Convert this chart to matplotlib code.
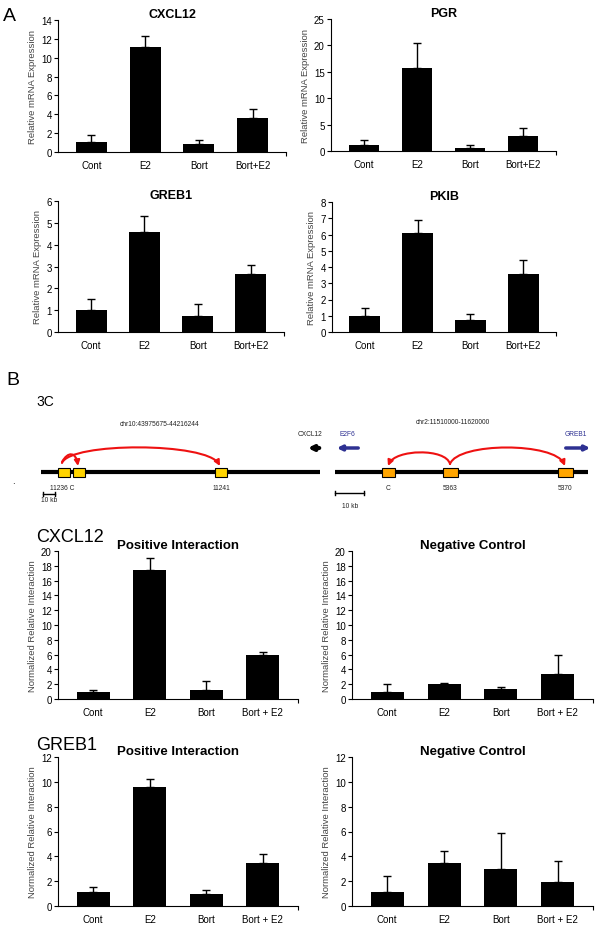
import matplotlib
matplotlib.use('Agg')
from matplotlib import pyplot as plt
from matplotlib.patches import Rectangle, FancyArrowPatch
from matplotlib.path import Path
import numpy as np

plt.rcParams['font.family'] = ['Liberation Sans', 'DejaVu Sans']

# ---- data ----
groups_a = ['Cont', 'E2', 'Bort', 'Bort+E2']
groups_b = ['Cont', 'E2', 'Bort', 'Bort + E2']

cxcl12_expr = [1.1, 11.1, 0.8, 3.6]
cxcl12_expr_err = [0.75, 1.2, 0.45, 1.0]
pgr_expr = [1.2, 15.7, 0.6, 2.8]
pgr_expr_err = [0.8, 4.8, 0.5, 1.6]
greb1_expr = [1.0, 4.6, 0.75, 2.65]
greb1_expr_err = [0.5, 0.72, 0.55, 0.4]
pkib_expr = [1.0, 6.1, 0.75, 3.55]
pkib_expr_err = [0.45, 0.8, 0.35, 0.9]

cxcl12_pos = [1.0, 17.4, 1.2, 6.0]
cxcl12_pos_err = [0.2, 1.6, 1.2, 0.4]
cxcl12_neg = [1.0, 2.0, 1.4, 3.4]
cxcl12_neg_err = [1.0, 0.2, 0.2, 2.6]
greb1_pos = [1.1, 9.6, 1.0, 3.5]
greb1_pos_err = [0.4, 0.6, 0.25, 0.7]
greb1_neg = [1.1, 3.5, 3.0, 1.95]
greb1_neg_err = [1.35, 0.95, 2.9, 1.65]

W, H = 600, 929
fig = plt.figure(figsize=(6, 9.29), dpi=100)


def px_axes(x0, y0, x1, y1):
    return fig.add_axes([x0 / W, 1 - y1 / H, (x1 - x0) / W, (y1 - y0) / H])


def bar_panel(ax, vals, errs, labels, ymax, step, ylabel, title, tsize, tpad):
    x = np.arange(len(vals))
    ax.bar(x, vals, width=0.58, color='black', zorder=2)
    ax.errorbar(x, vals, yerr=[np.zeros(len(errs)), errs], fmt='none',
                ecolor='black', elinewidth=1, capsize=3, capthick=1, zorder=3)
    ax.set_xlim(-0.62, 3.62)
    ax.set_ylim(0, ymax)
    ax.set_yticks(np.arange(0, ymax + 0.01, step))
    ax.set_xticks(x)
    ax.set_xticklabels(labels, fontsize=7)
    ax.set_xticks([3.62], minor=True)
    ax.tick_params(axis='x', which='major', length=0, pad=6)
    ax.tick_params(axis='x', which='minor', length=3, width=0.8)
    ax.tick_params(axis='y', labelsize=7, length=3, width=0.8, pad=1.5)
    for s in ['top', 'right']:
        ax.spines[s].set_visible(False)
    ax.spines['left'].set_linewidth(0.8)
    ax.spines['bottom'].set_linewidth(0.8)
    ax.set_ylabel(ylabel, fontsize=6.8, color='#444444', labelpad=3)
    ax.set_title(title, fontsize=tsize, fontweight='bold', pad=tpad)


ylab_a = 'Relative mRNA Expression'
ylab_b = 'Normalized Relative Interaction'

ax = px_axes(58, 21, 286, 153)
bar_panel(ax, cxcl12_expr, cxcl12_expr_err, groups_a, 14, 2, ylab_a, 'CXCL12', 9, 1)
ax = px_axes(331, 20, 556, 152)
bar_panel(ax, pgr_expr, pgr_expr_err, groups_a, 25, 5, ylab_a, 'PGR', 9, 1)
ax = px_axes(58, 202, 284, 333)
bar_panel(ax, greb1_expr, greb1_expr_err, groups_a, 6, 1, ylab_a, 'GREB1', 9, 1)
ax = px_axes(332, 203, 556, 333)
bar_panel(ax, pkib_expr, pkib_expr_err, groups_a, 8, 1, ylab_a, 'PKIB', 9, 1)

ax = px_axes(58, 552, 298, 700)
bar_panel(ax, cxcl12_pos, cxcl12_pos_err, groups_b, 20, 2, ylab_b, 'Positive Interaction', 9.5, -3)
ax = px_axes(352, 552, 593, 700)
bar_panel(ax, cxcl12_neg, cxcl12_neg_err, groups_b, 20, 2, ylab_b, 'Negative Control', 9.5, -3)
ax = px_axes(58, 758, 298, 907)
bar_panel(ax, greb1_pos, greb1_pos_err, groups_b, 12, 2, ylab_b, 'Positive Interaction', 9.5, -3)
ax = px_axes(352, 758, 593, 907)
bar_panel(ax, greb1_neg, greb1_neg_err, groups_b, 12, 2, ylab_b, 'Negative Control', 9.5, -3)

# ---- overlay for labels and 3C diagram (pixel coordinates) ----
ov = fig.add_axes([0, 0, 1, 1], zorder=-1)
ov.set_xlim(0, W)
ov.set_ylim(H, 0)
ov.axis('off')

ov.text(3, 16, 'A', fontsize=14, va='center', ha='left')
ov.text(6, 380, 'B', fontsize=14, va='center', ha='left')
ov.text(36, 402, '3C', fontsize=10, va='center', ha='left')
ov.text(36, 537, 'CXCL12', fontsize=13, va='center', ha='left')
ov.text(36, 745, 'GREB1', fontsize=13, va='center', ha='left')

# chromosome lines
line_y = 473
ov.plot([41, 320], [line_y, line_y], color='black', lw=3, solid_capstyle='butt')
ov.plot([335, 588], [line_y, line_y], color='black', lw=3, solid_capstyle='butt')

left_boxes = [(58, 70), (73, 85), (215, 227)]
right_boxes = [(382, 395), (443, 458), (558, 573)]
for x0, x1 in left_boxes:
    ov.add_patch(Rectangle((x0, 468.5), x1 - x0, 9, facecolor='#FFD400',
                           edgecolor='black', lw=0.8, zorder=3))
for x0, x1 in right_boxes:
    ov.add_patch(Rectangle((x0, 468.5), x1 - x0, 9, facecolor='#FFA500',
                           edgecolor='black', lw=0.8, zorder=3))

small = dict(fontsize=4.8, ha='center', va='center', color='#222222')
ov.text(160, 424, 'chr10:43975675-44216244', **small)
ov.text(453, 423, 'chr2:11510000-11620000', **small)
ov.text(62, 488, '11236 C', **small)
ov.text(221, 488, '11241', **small)
ov.text(388, 488, 'C', **small)
ov.text(450, 488, '5363', **small)
ov.text(565, 488, '5370', **small)
ov.text(310, 435, 'CXCL12', **small)
ov.text(347, 435, 'E2F6', fontsize=4.8, ha='center', va='center', color='#2E3192')
ov.text(576, 435, 'GREB1', fontsize=4.8, ha='center', va='center', color='#2E3192')
ov.text(13, 481, '.', fontsize=7, ha='center', va='center')

# gene arrows
ov.annotate('', xy=(305, 449), xytext=(322, 449),
            arrowprops=dict(arrowstyle='-|>', lw=3, color='black', mutation_scale=7))
ov.annotate('', xy=(334, 449), xytext=(361, 449),
            arrowprops=dict(arrowstyle='-|>', lw=2.5, color='#2E3192', mutation_scale=7))
ov.annotate('', xy=(593, 449), xytext=(563, 449),
            arrowprops=dict(arrowstyle='-|>', lw=2.5, color='#2E3192', mutation_scale=7))

# scale bars
for xa, xb, yb in [(43, 55, 495), (335, 364, 494)]:
    ov.plot([xa, xb], [yb, yb], color='black', lw=1)
    ov.plot([xa, xa], [yb - 2, yb + 2], color='black', lw=1)
    ov.plot([xb, xb], [yb - 2, yb + 2], color='black', lw=1)
ov.text(49, 501, '10 kb', **small)
ov.text(350, 506, '10 kb', **small)


# red interaction arcs
def arc(p0, c1, c2, p1):
    path = Path([p0, c1, c2, p1], [Path.MOVETO, Path.CURVE4, Path.CURVE4, Path.CURVE4])
    ov.add_patch(FancyArrowPatch(path=path, arrowstyle='-|>', mutation_scale=8,
                                 color='#EE1111', lw=1.5, zorder=4))


arc((62, 464), (70, 443), (207, 443), (220, 467))
arc((62, 463), (68, 452), (76, 453), (78, 467))
arc((450, 465), (446, 449), (395, 450), (388, 467))
arc((450, 465), (458, 443), (555, 443), (565, 467))

fig.savefig('out.png', dpi=100)
